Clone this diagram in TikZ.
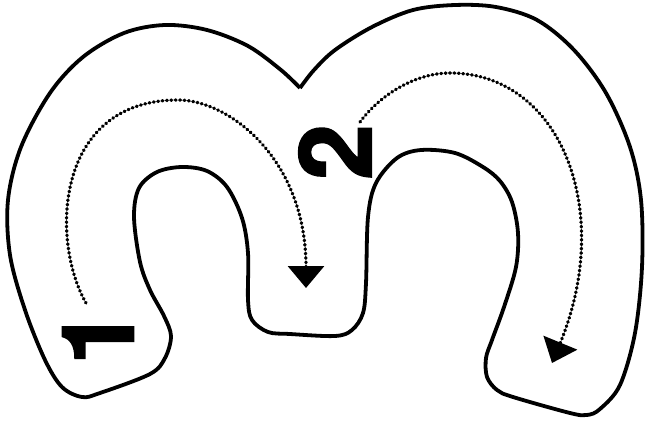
\documentclass[tikz,border=0pt]{standalone}
\usepackage{fontspec}
\newfontfamily\digitfont{TeX Gyre Heros}[BoldFeatures={FakeBold=2}]
\usetikzlibrary{arrows.meta}

\begin{document}
\begin{tikzpicture}[
	x=1pt, y=-1pt,
	outline/.style={ draw, line width=3.8pt, line join=miter },
	flow/.style={ line width=3.3pt, dash pattern=on 0.8pt off 3.6pt, line cap=round, -{Triangle[width=36pt,length=22pt]} },
	digit/.style={ inner sep=0pt, rotate=90, font=\digitfont\bfseries\fontsize{100}{100}\selectfont }
]
\useasboundingbox (0,0) rectangle (648,425);

% letter outline, sharp notch at the top
\draw[outline] plot[smooth, tension=0.55] coordinates {
	(300,88) (281,70) (248,46) (207,30) (165,25) (124,33) (83,57) (50,93) (21,147) (8,200)
	(10,255) (25,310) (45,360) (62,387) (82,397) (100,393) (150,374) (165,358) (171,336)
	(164,316) (150,290) (140,262) (134,217) (139,188) (157,172) (182,167) (207,171) (227,187)
	(242,218) (248,253) (248,300) (252,320) (268,332) (290,334) (335,336) (352,330) (363,313)
	(366,283) (368,217) (376,183) (397,158) (421,150) (455,153) (483,167) (500,181) (512,202)
	(518,233) (516,267) (504,307) (492,340) (486,358) (487,377) (497,390) (513,397) (570,413)
	(587,415) (600,409) (620,385) (635,333) (642,267) (641,200) (630,147) (606,93) (574,50)
	(537,20) (496,7) (455,5) (413,10) (372,27) (335,50) (314,70) (300,88)};

\node (one) at (98,337) [digit] {1};
\node (two) at (335,152) [digit] {2};

\coordinate (s1) at (86,303);
\coordinate (p1) at (178,100);
\coordinate (e1) at (306,288);
\draw[flow] (s1) .. controls (50,240) and (55,100) .. (p1) .. controls (230,100) and (306,160) .. (e1);

\coordinate (s2) at (360,122);
\coordinate (p2) at (450,73);
\coordinate (e2) at (552,363);
\draw[flow] (s2) .. controls (380,95) and (415,73) .. (p2) .. controls (560,73) and (615,210) .. (e2);

\end{tikzpicture}
\end{document}
